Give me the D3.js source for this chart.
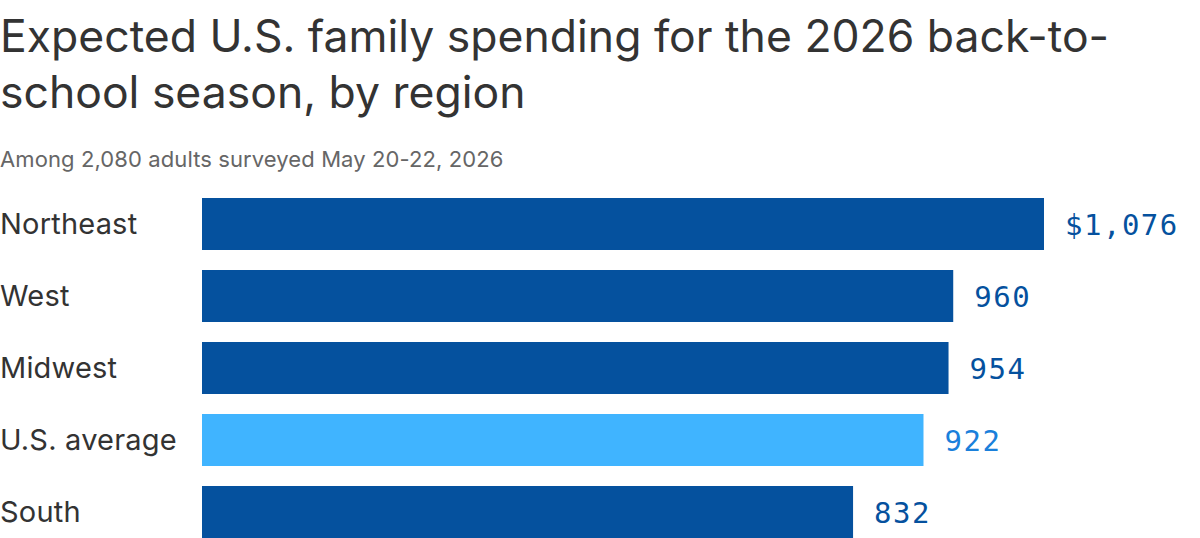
<!DOCTYPE html>
<html>
<head>
<meta charset="utf-8">
<script src="https://cdn.jsdelivr.net/npm/d3@7"></script>
<style>
  html, body { margin: 0; padding: 0; background: #fff; }
  svg { display: block; }
</style>
</head>
<body>
<div id="viz"></div>
<script>
const TITLE_LINES = [
  "Expected U.S. family spending for the 2026 back-to-",
  "school season, by region"
];
const SUBTITLE = "Among 2,080 adults surveyed May 20-22, 2026";

const regions = ["Northeast", "West", "Midwest", "U.S. average", "South"];
const spending = [1076, 960, 954, 922, 832];
const highlight = ["U.S. average"];

const W = 1200, H = 538;
const SANS = "Inter, 'Noto Sans', sans-serif";
const MONO = "'DejaVu Sans Mono', 'Liberation Mono', monospace";

const svg = d3.select("#viz").append("svg")
  .attr("width", W)
  .attr("height", H);

svg.selectAll("text.title")
  .data(TITLE_LINES)
  .join("text")
  .attr("class", "title")
  .attr("x", 0)
  .attr("y", (d, i) => 52 + i * 56)
  .attr("fill", "#333")
  .attr("font-family", SANS)
  .attr("font-size", 44.5)
  .text(d => d);

svg.append("text")
  .attr("x", 0)
  .attr("y", 167)
  .attr("fill", "#666")
  .attr("font-family", SANS)
  .attr("font-size", 22)
  .attr("letter-spacing", 0.1)
  .text(SUBTITLE);

const data = regions.map((r, i) => ({ region: r, value: spending[i] }));

// bars start at 202, biggest one ends at 1044; rows 72px apart, 52px tall
const x = d3.scaleLinear().domain([0, 1076]).range([202, 1044]);
const y = d3.scaleBand().domain(regions).range([198, 538]).paddingInner(20 / 72).paddingOuter(0);

const rows = svg.selectAll("g.row")
  .data(data)
  .join("g")
  .attr("class", "row");

rows.append("rect")
  .attr("x", x(0))
  .attr("y", d => y(d.region))
  .attr("width", d => x(d.value) - x(0))
  .attr("height", y.bandwidth())
  .attr("fill", d => highlight.includes(d.region) ? "#40b4ff" : "#05519e");

rows.append("text")
  .attr("x", 0)
  .attr("y", d => y(d.region) + y.bandwidth() / 2 + 10)
  .attr("fill", "#333")
  .attr("font-family", SANS)
  .attr("font-size", 29)
  .attr("letter-spacing", 0.2)
  .text(d => d.region);

const fmt = d3.format(",");
rows.append("text")
  .attr("x", d => x(d.value) + 21)
  .attr("y", d => y(d.region) + y.bandwidth() / 2 + 11)
  .attr("fill", d => highlight.includes(d.region) ? "#1a80db" : "#05519e")
  .attr("font-family", MONO)
  .attr("font-size", 29)
  .attr("letter-spacing", 1.5)
  .text((d, i) => (i === 0 ? "$" : "") + fmt(d.value));
</script>
</body>
</html>
